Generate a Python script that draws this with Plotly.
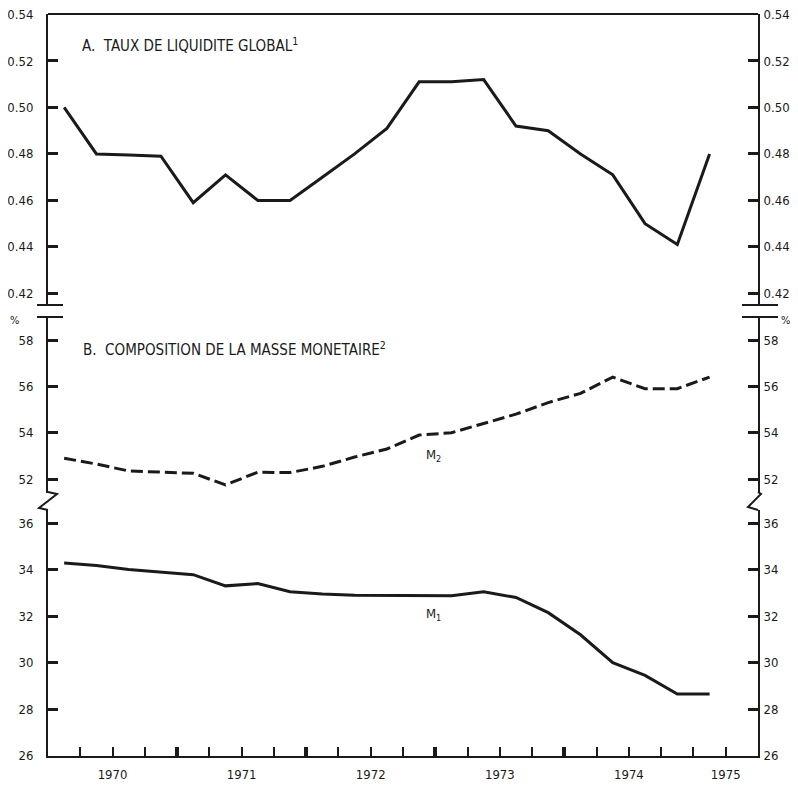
import plotly.graph_objects as go

# ---------------- data ----------------
years = [1970, 1970, 1970, 1970, 1971, 1971, 1971, 1971, 1972, 1972, 1972, 1972,
         1973, 1973, 1973, 1973, 1974, 1974, 1974, 1974, 1975]
quarters = [1, 2, 3, 4, 1, 2, 3, 4, 1, 2, 3, 4, 1, 2, 3, 4, 1, 2, 3, 4, 1]

liquidite = [0.500, 0.480, 0.4795, 0.479, 0.459, 0.471, 0.460, 0.460, 0.470, 0.480, 0.491,
             0.511, 0.511, 0.512, 0.492, 0.490, 0.480, 0.471, 0.450, 0.441, 0.480]
m2 = [52.9, 52.65, 52.35, 52.3, 52.25, 51.75, 52.3, 52.28, 52.55, 52.95, 53.3,
      53.9, 54.0, 54.4, 54.8, 55.3, 55.7, 56.4, 55.9, 55.9, 56.4]
m1 = [34.28, 34.18, 34.0, 33.9, 33.78, 33.3, 33.4, 33.05, 32.95, 32.9, 32.9,
      32.9, 32.88, 33.05, 32.8, 32.15, 31.2, 30.0, 29.45, 28.65, 28.65]

ticks_a = [0.42, 0.44, 0.46, 0.48, 0.50, 0.52, 0.54]
ticks_b = [52, 54, 56, 58]
ticks_c = [26, 28, 30, 32, 34, 36]
year_labels = ["1970", "1971", "1972", "1973", "1974", "1975"]
year_label_pos = [1970.5, 1971.5, 1972.5, 1973.5, 1974.5, 1975.25]
year_ticks = [1971, 1972, 1973, 1974]
quarter_ticks = [1970.25, 1970.5, 1970.75, 1971.25, 1971.5, 1971.75, 1972.25, 1972.5, 1972.75,
                 1973.25, 1973.5, 1973.75, 1974.25, 1974.5, 1974.75, 1975.0, 1975.25]

t = [y + (q - 0.5) / 4 for y, q in zip(years, quarters)]

# ---------------- layout geometry (screen px; page body has an 8px margin) ----------------
OFF = 8
W, H = 798 - 2 * OFF, 792 - 2 * OFF
X0, X1, Y0, Y1 = 48, 758, 14, 756          # plot area on screen
ML, MR, MT, MB = X0 - OFF, W - (X1 - OFF), Y0 - OFF, H - (Y1 - OFF)


def px(x):
    return (x - X0) / (X1 - X0)


def py(y):
    return (Y1 - y) / (Y1 - Y0)


FONT = "DejaVu Sans Condensed, Liberation Sans Narrow, Arial Narrow, sans-serif"
INK = "#1a1a1a"

fig = go.Figure()
fig.add_trace(go.Scatter(x=t, y=liquidite, mode="lines", xaxis="x", yaxis="y",
                         line=dict(color=INK, width=3), showlegend=False))
fig.add_trace(go.Scatter(x=t, y=m2, mode="lines", xaxis="x", yaxis="y2",
                         line=dict(color=INK, width=3, dash="12px,5px"), showlegend=False))
fig.add_trace(go.Scatter(x=t, y=m1, mode="lines", xaxis="x", yaxis="y3",
                         line=dict(color=INK, width=3), showlegend=False))


def yax(side, **kw):
    d = dict(showgrid=False, zeroline=False, showline=True, linecolor=INK, linewidth=2,
             ticks="inside", ticklen=10, tickwidth=2.5, tickcolor=INK, automargin=False,
             tickfont=dict(family=FONT, size=13, color=INK), ticklabeloverflow="allow",
             ticklabelstandoff=10 if side == "left" else 1, side=side, fixedrange=True)
    d.update(kw)
    return d


dom_a = [py(305), 1]
dom_b = [py(493), py(318)]
dom_c = [0, py(510)]
rng_a = [0.415, 0.5402]
rng_b = [51.4, 58.95]
rng_c = [25.99, 36.56]
lab_a = [f"{v:.2f}" for v in ticks_a]
lab_b = [str(v) for v in ticks_b]
lab_c = [str(v) for v in ticks_c]

fig.update_layout(
    width=W, height=H, margin=dict(l=ML, r=MR, t=MT, b=MB, autoexpand=False),
    paper_bgcolor="white", plot_bgcolor="white",
    xaxis=dict(range=[1970.0, 1975.5], anchor="y3", showgrid=False, zeroline=False,
               showline=True, linecolor=INK, linewidth=2, automargin=False, fixedrange=True,
               tickmode="array", tickvals=year_ticks, showticklabels=False,
               ticks="inside", ticklen=9, tickwidth=4, tickcolor=INK,
               minor=dict(tickmode="array", tickvals=quarter_ticks, ticks="inside",
                          ticklen=9, tickwidth=2, tickcolor=INK, showgrid=False)),
    xaxis2=dict(range=[1970.0, 1975.5], anchor="y3", overlaying="x", side="bottom",
                showgrid=False, zeroline=False, showline=False, automargin=False,
                fixedrange=True, ticklabeloverflow="allow",
                tickmode="array", tickvals=year_label_pos, ticktext=year_labels,
                ticks="", tickfont=dict(family=FONT, size=13, color=INK),
                ticklabelstandoff=9),
    yaxis=yax("left", domain=dom_a, range=rng_a, anchor="x", tickmode="array",
              tickvals=ticks_a, ticktext=lab_a),
    yaxis4=yax("right", range=rng_a, anchor="x", overlaying="y", tickmode="array",
               tickvals=ticks_a, ticktext=lab_a),
    yaxis2=yax("left", domain=dom_b, range=rng_b, anchor="x", tickmode="array",
               tickvals=ticks_b, ticktext=lab_b),
    yaxis5=yax("right", range=rng_b, anchor="x", overlaying="y2", tickmode="array",
               tickvals=ticks_b, ticktext=lab_b),
    yaxis3=yax("left", domain=dom_c, range=rng_c, anchor="x", tickmode="array",
               tickvals=ticks_c, ticktext=lab_c),
    yaxis6=yax("right", range=rng_c, anchor="x", overlaying="y3", tickmode="array",
               tickvals=ticks_c, ticktext=lab_c),
)

# invisible traces so the right-hand axes are drawn
fig.add_trace(go.Scatter(x=[t[0]], y=[liquidite[0]], xaxis="x2", yaxis="y4", mode="markers",
                         marker=dict(opacity=0), showlegend=False, hoverinfo="skip"))
fig.add_trace(go.Scatter(x=[t[0]], y=[m2[0]], xaxis="x", yaxis="y5", mode="markers",
                         marker=dict(opacity=0), showlegend=False, hoverinfo="skip"))
fig.add_trace(go.Scatter(x=[t[0]], y=[m1[0]], xaxis="x", yaxis="y6", mode="markers",
                         marker=dict(opacity=0), showlegend=False, hoverinfo="skip"))

# decorative frame / break marks
line = dict(color=INK, width=2)
shapes = [
    dict(type="line", xref="paper", yref="paper", x0=0, x1=1, y0=1, y1=1, line=line),
    # break between panel A and B
    dict(type="line", xref="paper", yref="paper", x0=px(37), x1=px(63), y0=py(305), y1=py(305), line=line),
    dict(type="line", xref="paper", yref="paper", x0=px(37), x1=px(63), y0=py(317), y1=py(317), line=line),
    dict(type="line", xref="paper", yref="paper", x0=px(742), x1=px(778), y0=py(305), y1=py(305), line=line),
    dict(type="line", xref="paper", yref="paper", x0=px(742), x1=px(778), y0=py(317), y1=py(317), line=line),
    # zigzag breaks between M2 and M1
    dict(type="path", xref="paper", yref="paper",
         path=f"M {px(48)},{py(492)} L {px(57)},{py(494)} L {px(39)},{py(508)} L {px(48)},{py(510)}",
         line=line),
    dict(type="path", xref="paper", yref="paper",
         path=f"M {px(758)},{py(492)} L {px(761)},{py(494)} L {px(748)},{py(507)} L {px(758)},{py(510)}",
         line=line),
]
fig.update_layout(shapes=shapes)

ann_font = dict(family=FONT, size=15, color=INK)
annotations = [
    dict(text="A.  TAUX DE LIQUIDITE GLOBAL<sup>1</sup>", x=px(80), y=py(45),
         xanchor="left", yanchor="middle"),
    dict(text="B.  COMPOSITION DE LA MASSE MONETAIRE<sup>2</sup>", x=px(81), y=py(349),
         xanchor="left", yanchor="middle"),
    dict(text="M<sub>2</sub>", x=px(424), y=py(455), xanchor="left", yanchor="middle",
         font=dict(family=FONT, size=13, color=INK)),
    dict(text="M<sub>1</sub>", x=px(424), y=py(614), xanchor="left", yanchor="middle",
         font=dict(family=FONT, size=13, color=INK)),
    dict(text="%", x=px(14), y=py(320), xanchor="center", yanchor="middle",
         font=dict(family=FONT, size=11, color=INK)),
    dict(text="%", x=px(785), y=py(320), xanchor="center", yanchor="middle",
         font=dict(family=FONT, size=11, color=INK)),
]
for a in annotations:
    a.update(xref="paper", yref="paper", showarrow=False)
    a.setdefault("font", ann_font)
fig.update_layout(annotations=annotations)

fig.write_html("out.html")
